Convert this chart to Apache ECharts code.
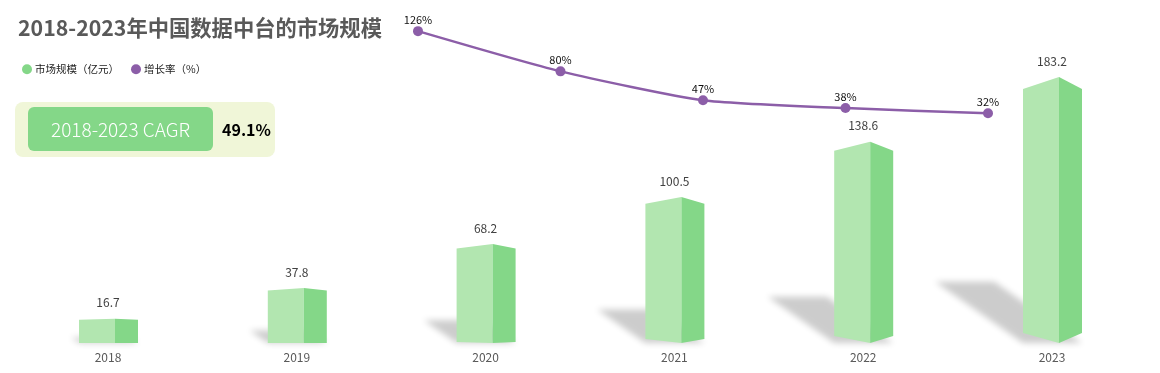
<!DOCTYPE html>
<html><head><meta charset="utf-8">
<script src="https://cdn.jsdelivr.net/npm/echarts@6/dist/echarts.min.js"></script>
<style>html,body{margin:0;padding:0;background:#fff}#c{width:1160px;height:373px}</style>
</head><body><div id="c"></div>
<script>
const years = ['2018', '2019', '2020', '2021', '2022', '2023'];
const marketSize = [16.7, 37.8, 68.2, 100.5, 138.6, 183.2];
const growthYears = ['2019', '2020', '2021', '2022', '2023'];
const growthRate = [126, 80, 47, 38, 32];
const cagrLabel = '2018-2023 CAGR';
const cagrValue = '49.1%';
const titleText = '2018-2023年中国数据中台的市场规模';
const seriesNames = ['市场规模（亿元）', '增长率（%）'];

const FONT = '"Noto Sans CJK SC", "Noto Sans", sans-serif';
const GREEN = '#84d788', GREEN_LIGHT = '#b2e6b0', PURPLE = '#8c5ea8';

function renderBar(params, api) {
  const idx = api.value(0);
  const v = api.value(1);
  const top = api.coord([idx, v]);
  const base = api.coord([idx, 0]);
  const c = top[0];
  const yb = base[1], yt = top[1];
  const h = yb - yt;
  const t = h * 0.045;
  const b = Math.max(0, (c - 420) * 0.016);
  const xl = c - 29, xm = c + 7, xr = c + 30;
  const sdx = -0.33 * h, sdy = -0.23 * h;
  const OFF = 3000;
  return {
    type: 'group',
    children: [
      { type: 'polygon', silent: true,
        shape: { points: [[xl + OFF, yb], [xr + OFF, yb], [xr + sdx + OFF, yb + sdy], [xl + sdx + OFF, yb + sdy]] },
        style: { fill: '#000', shadowColor: 'rgba(0,0,0,0.2)', shadowBlur: 6, shadowOffsetX: -OFF } },
      { type: 'polygon', shape: { points: [[xl, yb - b], [xm, yb], [xm, yt], [xl, yt + t]] }, style: { fill: GREEN_LIGHT } },
      { type: 'polygon', shape: { points: [[xm, yb], [xr, yb - b], [xr, yt + t], [xm, yt]] }, style: { fill: GREEN } },
      { type: 'text', x: c, y: yt - 16,
        style: { text: String(v), fontSize: 12, fill: '#404040', align: 'center', verticalAlign: 'middle', fontFamily: FONT } }
    ]
  };
}

const chart = echarts.init(document.getElementById('c'), null, { renderer: 'canvas' });
chart.setOption({
  animation: false,
  backgroundColor: '#fff',
  title: {
    text: titleText, left: 18, top: 17, padding: 0,
    textStyle: { fontSize: 21.3, fontWeight: 'bold', color: '#595959', fontFamily: FONT }
  },
  legend: {
    left: 22, top: 64, padding: 0, icon: 'circle', itemWidth: 10, itemHeight: 10, itemGap: 12,
    textStyle: { fontSize: 10.5, color: '#222', fontFamily: FONT, padding: [0, 0, 0, -2] },
    data: [seriesNames[0], seriesNames[1]]
  },
  grid: [
    { left: 13.6, right: 13.6, top: 52.6, bottom: 30 },
    { left: 418, right: 172, top: 18.9, bottom: 231.7 }
  ],
  xAxis: [
    { type: 'category', gridIndex: 0, data: years, boundaryGap: true,
      axisLine: { show: false }, axisTick: { show: false },
      axisLabel: { color: '#595959', fontSize: 12, margin: 8, fontFamily: FONT } },
    { type: 'category', gridIndex: 1, data: growthYears, boundaryGap: false, show: false }
  ],
  yAxis: [
    { type: 'value', gridIndex: 0, min: 0, max: 200, show: false },
    { type: 'value', gridIndex: 1, min: 0, max: 140, show: false }
  ],
  series: [
    { name: seriesNames[0], type: 'custom', xAxisIndex: 0, yAxisIndex: 0,
      itemStyle: { color: GREEN },
      encode: { x: 0, y: 1 },
      data: years.map((y, i) => [i, marketSize[i]]),
      renderItem: renderBar },
    { name: seriesNames[1], type: 'line', xAxisIndex: 1, yAxisIndex: 1,
      data: growthRate, smooth: 0.2, symbol: 'circle', symbolSize: 10,
      lineStyle: { color: PURPLE, width: 2.5 }, itemStyle: { color: PURPLE },
      label: { show: true, position: 'top', distance: 1, fontSize: 11, color: '#111', fontFamily: FONT,
               formatter: p => p.value + '%' },
      z: 5 }
  ],
  graphic: [
    { type: 'rect', left: 15, top: 102, shape: { width: 260, height: 55, r: 8 }, style: { fill: '#f0f6d8' }, z: 1 },
    { type: 'rect', left: 28, top: 107, shape: { width: 185, height: 44, r: 6 }, style: { fill: GREEN }, z: 2 },
    { type: 'text', x: 120.5, y: 129.5, z: 3,
      style: { text: cagrLabel, fill: '#fff', fontSize: 19, fontWeight: 300, fontFamily: FONT, align: 'center', verticalAlign: 'middle' } },
    { type: 'text', x: 246.5, y: 129.5, z: 3,
      style: { text: cagrValue, fill: '#000', fontSize: 16, fontWeight: 'bold', fontFamily: FONT, align: 'center', verticalAlign: 'middle' } }
  ]
});
</script>
</body></html>
